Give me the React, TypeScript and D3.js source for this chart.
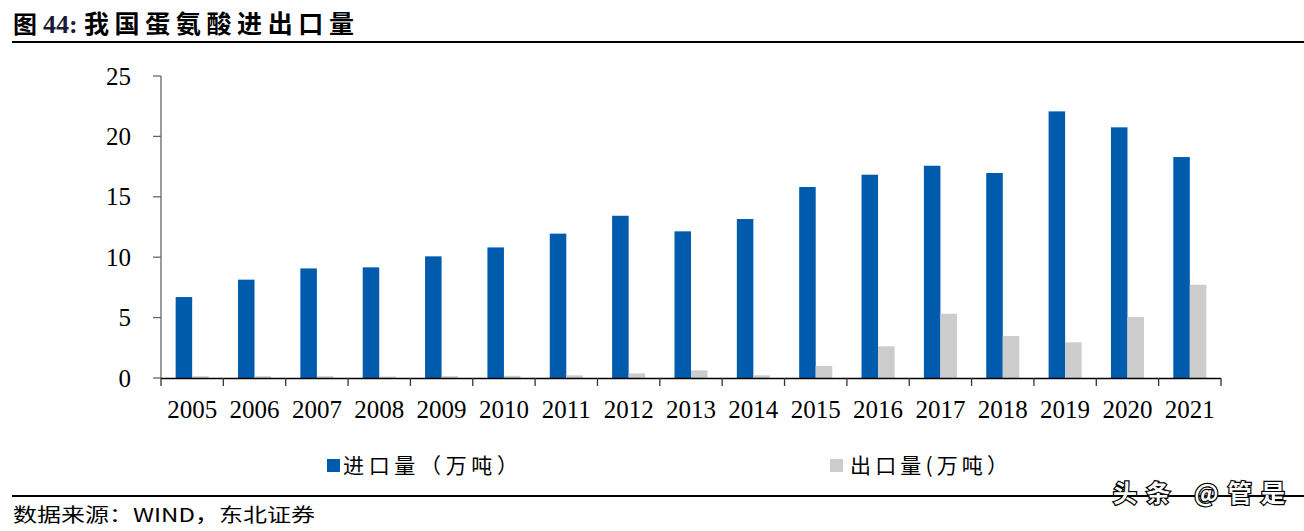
import React from "react";
import * as d3 from "d3";

const years = ["2005","2006","2007","2008","2009","2010","2011","2012","2013","2014","2015","2016","2017","2018","2019","2020","2021"];
const importVals = [6.7, 8.14, 9.07, 9.16, 10.07, 10.81, 11.95, 13.43, 12.14, 13.16, 15.81, 16.83, 17.57, 16.97, 22.07, 20.75, 18.29];
const exportVals = [0.15, 0.15, 0.15, 0.12, 0.15, 0.18, 0.22, 0.38, 0.63, 0.22, 0.99, 2.62, 5.32, 3.48, 2.95, 5.05, 7.72];
const yTicks = [0, 5, 10, 15, 20, 25];
const seriesNames = ["进口量（万吨）", "出口量(万吨）"];
const title = "我国蛋氨酸进出口量";
const source = "数据来源：WIND，东北证券";

const BLUE = "#005BAC";
const GRAY = "#CCCCCC";
const SERIF = "'Liberation Serif', 'Times New Roman', 'Noto Sans CJK SC', serif";
const CJK = "'Noto Sans CJK SC', 'Liberation Serif', sans-serif";

export default function App() {
  const W = 1304, H = 531;
  const x = d3.scaleBand<string>().domain(years).range([161, 1221]).paddingInner(0).paddingOuter(0);
  const y = d3.scaleLinear().domain([0, 25]).range([378, 76]);
  const bw = x.bandwidth();
  const barW = bw * 0.265;
  const boundaries = d3.range(years.length + 1).map((i) => 161 + i * bw);

  return (
    <svg width={W} height={H} style={{ position: "absolute", left: 0, top: 0, background: "#fff" }}>
      {/* title */}
      <text x={13} y={33} fontFamily={CJK} fontWeight="bold" fontSize={24} fill="#000">图</text>
      <text x={43} y={33} fontFamily={SERIF} fontWeight="bold" fontSize={26} fill="#1a1a3a">44:</text>
      <text x={84} y={33} fontFamily={CJK} fontWeight="bold" fontSize={25} fill="#000" textLength={270} lengthAdjust="spacing">{title}</text>
      <line x1={12} x2={1304} y1={42} y2={42} stroke="#000" strokeWidth={2} />

      {/* y axis */}
      <line x1={161} x2={161} y1={76} y2={378} stroke="#666" strokeWidth={1.3} />
      {yTicks.map((t) => (
        <g key={t}>
          <line x1={153} x2={161} y1={y(t)} y2={y(t)} stroke="#666" strokeWidth={1.3} />
          <text x={131} y={y(t)} dy="0.34em" textAnchor="end" fontFamily={SERIF} fontSize={25} fill="#000">{t}</text>
        </g>
      ))}

      {/* bars */}
      {years.map((yr, i) => {
        const cx = (x(yr) as number) + bw / 2;
        return (
          <g key={yr}>
            <rect x={cx - barW} y={y(importVals[i])} width={barW} height={y(0) - y(importVals[i])} fill={BLUE} />
            <rect x={cx} y={y(exportVals[i])} width={barW} height={y(0) - y(exportVals[i])} fill={GRAY} />
          </g>
        );
      })}

      {/* x axis */}
      <line x1={161} x2={1221} y1={378.5} y2={378.5} stroke="#000" strokeWidth={1.5} />
      {boundaries.map((bx, i) => (
        <line key={i} x1={bx} x2={bx} y1={378} y2={386} stroke="#333" strokeWidth={1.3} />
      ))}
      {years.map((yr) => (
        <text key={yr} x={(x(yr) as number) + bw / 2} y={418} textAnchor="middle" fontFamily={SERIF} fontSize={25} fill="#000">{yr}</text>
      ))}

      {/* legend */}
      <rect x={327} y={459} width={13} height={13} fill={BLUE} />
      <text x={343} y={473} fontFamily={CJK} fontSize={21} fill="#000" textLength={175} lengthAdjust="spacing">{seriesNames[0]}</text>
      <rect x={830} y={459} width={13} height={13} fill={GRAY} />
      <text x={850} y={473} fontFamily={CJK} fontSize={21} fill="#000" textLength={158} lengthAdjust="spacing">{seriesNames[1]}</text>

      {/* footer */}
      <line x1={12} x2={1304} y1={496} y2={496} stroke="#000" strokeWidth={2} />
      <text x={13} y={522} fontFamily={CJK} fontSize={19} fill="#000" textLength={302} lengthAdjust="spacingAndGlyphs">{source}</text>

      {/* watermark */}
      <text x={1113} y={502} fontFamily={CJK} fontWeight="bold" fontSize={24} fill="#fff" stroke="#000" strokeWidth={2.5} paintOrder="stroke" textLength={172} lengthAdjust="spacing">头条 @管是</text>
    </svg>
  );
}
